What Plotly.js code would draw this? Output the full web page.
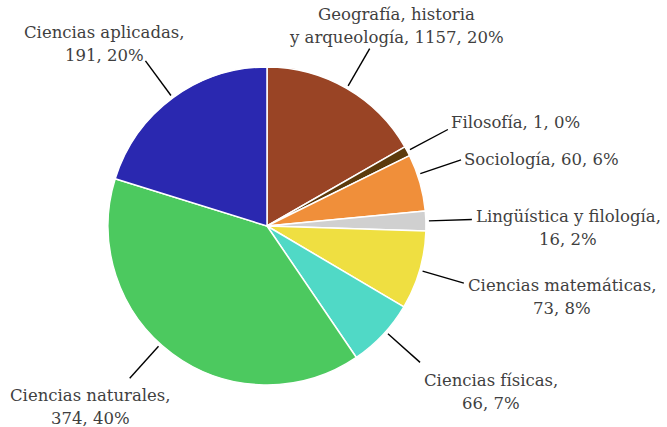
<!DOCTYPE html>
<html>
<head>
<meta charset="utf-8">
<script src="https://cdn.plot.ly/plotly-3.0.1.min.js"></script>
<style>html,body{margin:0;padding:0;background:#fff;}#chart{width:667px;height:427px;}</style>
</head>
<body>
<div id="chart"></div>
<script>
// ---- data ----
const categories = ["Geografía, historia y arqueología", "Filosofía", "Sociología",
  "Lingüística y filología", "Ciencias matemáticas", "Ciencias físicas",
  "Ciencias naturales", "Ciencias aplicadas"];
const counts = [1157, 1, 60, 16, 73, 66, 374, 191];
const percentLabels = ["20%", "0%", "6%", "2%", "8%", "7%", "40%", "20%"];
const sliceShares = [16.7, 1.0, 5.8, 2.0, 8.0, 7.0, 39.3, 20.2];
const colors = ["#994425", "#5c3a0c", "#f08f3a", "#d0d0d0", "#efdf41", "#50d9c6", "#4cc95f", "#2a28b0"];

// ---- label placement (style only) ----
const W = 667, H = 427;
const dom = {x: [0.1619, 0.6387], y: [0.0984, 0.8431]};
const FONT = "DejaVu Serif";
const FS = 16.5;
const LINE_H = 23;
const oneLine = i => [categories[i] + ", " + counts[i] + ", " + percentLabels[i]];
const twoLines = i => [categories[i] + ",", counts[i] + ", " + percentLabels[i]];
// anchor side; dx = px from line end to anchor edge; by = first baseline offset (px, down); nudge = callout angle tweak (deg)
const place = [
  {lines: i => ["Geografía, historia", "y arqueología, " + counts[i] + ", " + percentLabels[i]], xa: "center", dx: 27, by: -28, nudge: 0},
  {lines: oneLine, xa: "left", dx: 3, by: -1, nudge: 0},
  {lines: oneLine, xa: "left", dx: 3, by: 6, nudge: -3},
  {lines: twoLines, xa: "left", dx: 4, by: 3, nudge: 0},
  {lines: twoLines, xa: "left", dx: 4, by: 8, nudge: 0},
  {lines: twoLines, xa: "left", dx: 4, by: 24, nudge: -1.5},
  {lines: twoLines, xa: "right", dx: 41, by: 23, nudge: 5.5},
  {lines: twoLines, xa: "right", dx: 39, by: -22, nudge: 0}
];

const ctx = document.createElement("canvas").getContext("2d");
ctx.font = FS + 'px "' + FONT + '"';
const measure = t => ctx.measureText(t).width;

const cx = (dom.x[0] + dom.x[1]) / 2 * W;
const cy = (1 - (dom.y[0] + dom.y[1]) / 2) * H;
const R = Math.min((dom.x[1] - dom.x[0]) * W, (dom.y[1] - dom.y[0]) * H) / 2;
const total = sliceShares.reduce((a, b) => a + b, 0);

const shapes = [], annotations = [];
let cum = 0;
sliceShares.forEach((v, i) => {
  const p = place[i];
  const mid = ((cum + v / 2) / total * 360 + p.nudge) * Math.PI / 180;
  cum += v;
  const s = Math.sin(mid), c = Math.cos(mid);
  const r0 = R + 3, r1 = R + 46;
  const x0 = cx + r0 * s, y0 = cy - r0 * c, x1 = cx + r1 * s, y1 = cy - r1 * c;
  shapes.push({type: "line", xref: "paper", yref: "paper",
    x0: x0 / W, y0: 1 - y0 / H, x1: x1 / W, y1: 1 - y1 / H,
    line: {color: "#000", width: 1.4}});
  const lines = p.lines(i);
  const wmax = Math.max(...lines.map(measure));
  let centerX;
  if (p.xa === "left") centerX = x1 + p.dx + wmax / 2;
  else if (p.xa === "right") centerX = x1 + p.dx - wmax / 2;
  else centerX = x1 + p.dx;
  lines.forEach((t, k) => {
    const baseline = y1 + p.by + k * LINE_H;
    const midY = baseline - 0.36 * FS;
    annotations.push({xref: "paper", yref: "paper", x: centerX / W, y: 1 - midY / H,
      xanchor: "center", yanchor: "middle", text: t, showarrow: false,
      borderpad: 0, font: {family: FONT + ", serif", size: FS, color: "#3f3f3f"}});
  });
});

const trace = {
  type: "pie", values: sliceShares, labels: categories,
  marker: {colors: colors, line: {color: "#ffffff", width: 1.5}},
  sort: false, direction: "clockwise", rotation: 0,
  textinfo: "none", hoverinfo: "none", domain: dom, showlegend: false
};

Plotly.newPlot("chart", [trace], {
  width: W, height: H, margin: {l: 0, r: 0, t: 0, b: 0},
  paper_bgcolor: "#fff", showlegend: false, shapes: shapes, annotations: annotations
}, {staticPlot: true});
</script>
</body>
</html>
